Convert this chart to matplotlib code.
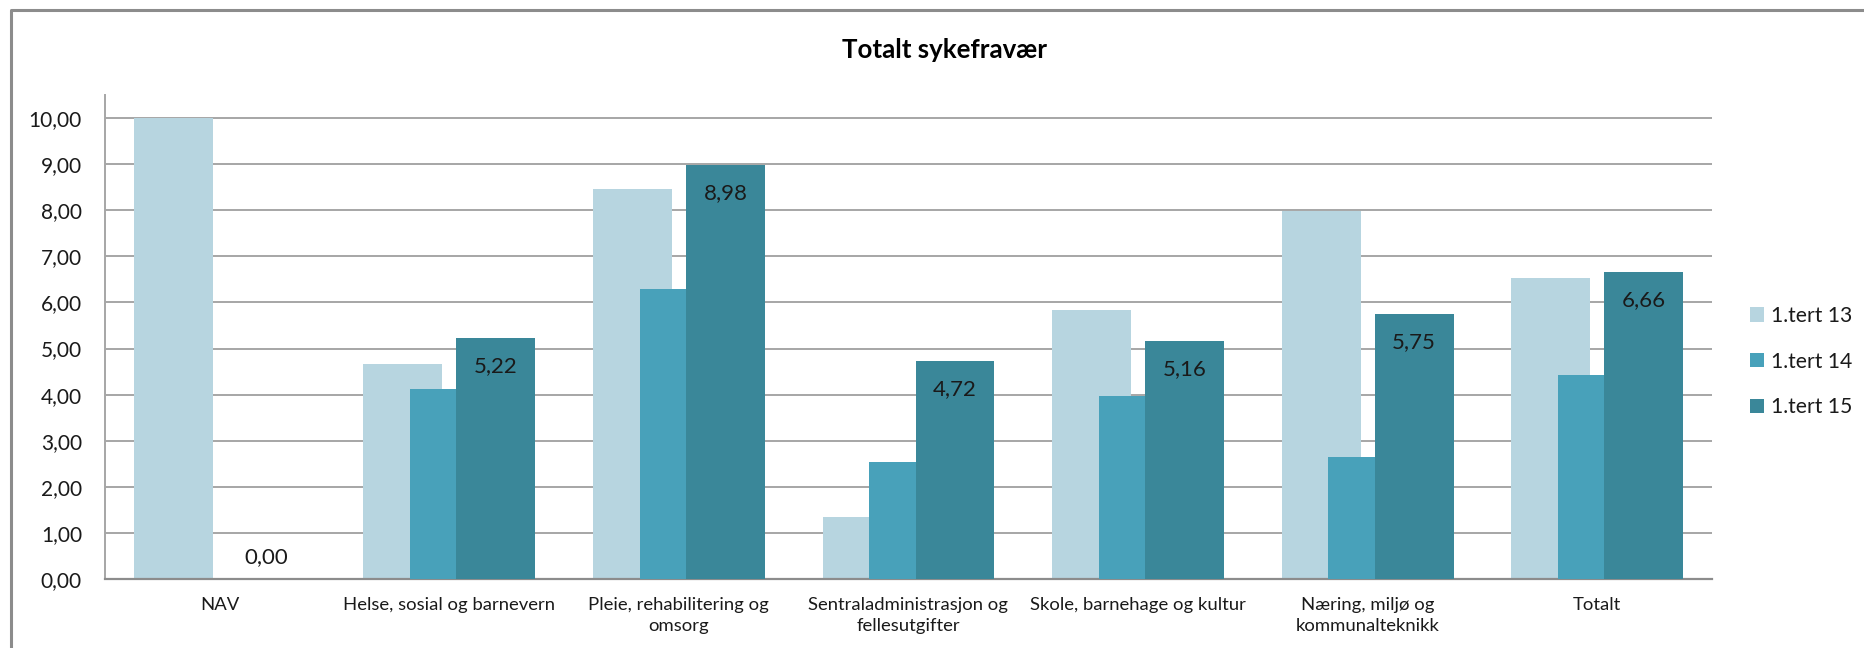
import matplotlib
matplotlib.use("Agg")
import matplotlib.pyplot as plt
import numpy as np
from matplotlib.lines import Line2D

categories = ["NAV", "Helse, sosial og barnevern", "Pleie, rehabilitering og\nomsorg",
              "Sentraladministrasjon og\nfellesutgifter", "Skole, barnehage og kultur",
              "Næring, miljø og\nkommunalteknikk", "Totalt"]
series_names = ["1.tert 13", "1.tert 14", "1.tert 15"]
tert13 = [10.00, 4.67, 8.47, 1.34, 5.83, 7.99, 6.52]
tert14 = [0.00, 4.13, 6.29, 2.53, 3.98, 2.64, 4.43]
tert15 = [0.00, 5.22, 8.98, 4.72, 5.16, 5.75, 6.66]
yticks = [0, 1, 2, 3, 4, 5, 6, 7, 8, 9, 10]

colors = ["#B7D5E0", "#48A1BA", "#3A8799"]
FONT = "Lato"
plt.rcParams['font.family'] = [FONT, 'DejaVu Sans']

W, H = 1865, 648
fig = plt.figure(figsize=(W/100, H/100), dpi=100)
fig.patch.set_facecolor("white")

ax_l, ax_r, ax_b = 105, 1712, 579
ppu = 46.1
ymax = 10.5
ax_t = ax_b - ymax*ppu
ax = fig.add_axes([ax_l/W, 1 - ax_b/H, (ax_r-ax_l)/W, (ax_b-ax_t)/H])

x = np.arange(len(categories))
bw = 0.343
step = 0.2025
for i, (vals, c, name) in enumerate(zip([tert13, tert14, tert15], colors, series_names)):
    ax.bar(x + (i-1)*step, vals, width=bw, color=c, label=name, zorder=2+i)

# data labels for last series
for xi, v in zip(x, tert15):
    lab = f"{v:.2f}".replace(".", ",")
    dy = -28 if v > 0 else 22
    ax.annotate(lab, (xi + step, v), xytext=(0, dy*0.72), textcoords="offset points",
                ha="center", va="center", fontsize=16, color="#1a1a1a", zorder=10)

ax.set_xlim(-0.5, len(categories)-0.5)
ax.set_ylim(0, ymax)
ax.set_yticks(yticks)
ax.set_yticklabels([f"{t:.2f}".replace(".", ",") for t in yticks], fontsize=15, color="#1a1a1a")
ax.set_xticks(x)
ax.set_xticklabels(categories, fontsize=13.3, color="#1a1a1a", linespacing=1.4)
ax.tick_params(axis="both", length=0)
ax.tick_params(axis="y", pad=23*0.72)
ax.tick_params(axis="x", pad=18*0.72)
ax.yaxis.grid(True, color="#A6A6A6", linewidth=1.4, zorder=0)
ax.set_axisbelow(True)
for s in ["top", "right"]:
    ax.spines[s].set_visible(False)
ax.spines["left"].set_color("#A6A6A6")
ax.spines["left"].set_linewidth(1.4)
ax.spines["bottom"].set_color("#8C8C8C")
ax.spines["bottom"].set_linewidth(1.6)

fig.text(945/W, 1 - 50/H, "Totalt sykefravær", ha="center", va="center",
         fontsize=18.6, fontweight="bold", color="#000000")

leg = fig.legend(loc="center left", bbox_to_anchor=(1750/W, 1 - 361.5/H), frameon=False,
                 borderpad=0, borderaxespad=0, fontsize=15.2, handlelength=0.68, handleheight=0.68,
                 handletextpad=0.33, labelspacing=1.22)
for t in leg.get_texts():
    t.set_color("#1a1a1a")

# border (top and left visible)
fig.add_artist(Line2D([11/W, 11/W, 1.0], [0.0, 1 - 10/H, 1 - 10/H], transform=fig.transFigure,
                      color="#8C8C8C", linewidth=2.2))

fig.savefig("out.png", dpi=100, facecolor="white")
